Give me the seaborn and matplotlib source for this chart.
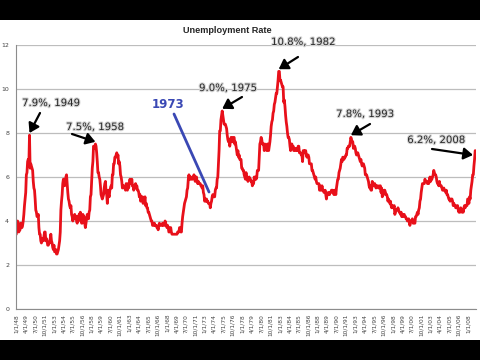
import numpy as np
import matplotlib
matplotlib.use("Agg")
import matplotlib.pyplot as plt
import matplotlib.patheffects as pe
from matplotlib.patches import Rectangle
import seaborn as sns

# monthly unemployment rate (%), Jan 1948 .. Dec 2008, one row per year
first_year = 1948
monthly_rates = [
    [3.4, 3.8, 4.0, 3.9, 3.5, 3.6, 3.6, 3.9, 3.8, 3.7, 3.8, 4.0],
    [4.3, 4.7, 5.0, 5.3, 6.1, 6.2, 6.7, 6.8, 6.6, 7.9, 6.4, 6.6],
    [6.5, 6.4, 6.3, 5.8, 5.5, 5.4, 5.0, 4.5, 4.4, 4.2, 4.2, 4.3],
    [3.7, 3.4, 3.4, 3.1, 3.0, 3.2, 3.1, 3.1, 3.3, 3.5, 3.5, 3.1],
    [3.2, 3.1, 2.9, 2.9, 3.0, 3.0, 3.2, 3.4, 3.1, 3.0, 2.8, 2.7],
    [2.9, 2.6, 2.6, 2.7, 2.5, 2.5, 2.6, 2.7, 2.9, 3.1, 3.5, 4.5],
    [4.9, 5.2, 5.7, 5.9, 5.9, 5.6, 5.8, 6.0, 6.1, 5.7, 5.3, 5.0],
    [4.9, 4.7, 4.6, 4.7, 4.3, 4.2, 4.0, 4.2, 4.1, 4.3, 4.2, 4.2],
    [4.0, 3.9, 4.2, 4.0, 4.3, 4.3, 4.4, 4.1, 3.9, 3.9, 4.3, 4.2],
    [4.2, 3.9, 3.7, 3.9, 4.1, 4.3, 4.2, 4.1, 4.4, 4.5, 5.1, 5.2],
    [5.8, 6.4, 6.7, 7.4, 7.4, 7.3, 7.5, 7.4, 7.1, 6.7, 6.2, 6.2],
    [6.0, 5.9, 5.6, 5.2, 5.1, 5.0, 5.1, 5.2, 5.5, 5.7, 5.8, 5.3],
    [5.2, 4.8, 5.4, 5.2, 5.1, 5.4, 5.5, 5.6, 5.5, 6.1, 6.1, 6.6],
    [6.6, 6.9, 6.9, 7.0, 7.1, 6.9, 7.0, 6.6, 6.7, 6.5, 6.1, 6.0],
    [5.8, 5.5, 5.6, 5.6, 5.5, 5.5, 5.4, 5.7, 5.6, 5.4, 5.7, 5.5],
    [5.7, 5.9, 5.7, 5.7, 5.9, 5.6, 5.6, 5.4, 5.5, 5.5, 5.7, 5.5],
    [5.6, 5.4, 5.4, 5.3, 5.1, 5.2, 4.9, 5.0, 5.1, 5.1, 4.8, 5.0],
    [4.9, 5.1, 4.7, 4.8, 4.6, 4.6, 4.4, 4.4, 4.3, 4.2, 4.1, 4.0],
    [4.0, 3.8, 3.8, 3.8, 3.9, 3.8, 3.8, 3.8, 3.7, 3.7, 3.6, 3.8],
    [3.9, 3.8, 3.8, 3.8, 3.8, 3.9, 3.8, 3.8, 3.8, 4.0, 3.9, 3.8],
    [3.7, 3.8, 3.7, 3.5, 3.5, 3.7, 3.7, 3.5, 3.4, 3.4, 3.4, 3.4],
    [3.4, 3.4, 3.4, 3.4, 3.4, 3.5, 3.5, 3.5, 3.7, 3.7, 3.5, 3.5],
    [3.9, 4.2, 4.4, 4.6, 4.8, 4.9, 5.0, 5.1, 5.4, 5.5, 5.9, 6.1],
    [5.9, 5.9, 6.0, 5.9, 5.9, 5.9, 6.0, 6.1, 6.0, 5.8, 6.0, 6.0],
    [5.8, 5.7, 5.8, 5.7, 5.7, 5.7, 5.6, 5.6, 5.5, 5.6, 5.3, 5.2],
    [4.9, 5.0, 4.9, 5.0, 4.9, 4.9, 4.8, 4.8, 4.8, 4.6, 4.8, 4.9],
    [5.1, 5.2, 5.1, 5.1, 5.1, 5.4, 5.5, 5.5, 5.9, 6.0, 6.6, 7.2],
    [8.1, 8.1, 8.6, 8.8, 9.0, 8.8, 8.6, 8.4, 8.4, 8.4, 8.3, 8.2],
    [7.9, 7.7, 7.6, 7.7, 7.4, 7.6, 7.8, 7.8, 7.6, 7.7, 7.8, 7.8],
    [7.5, 7.6, 7.4, 7.2, 7.0, 7.2, 6.9, 7.0, 6.8, 6.8, 6.8, 6.4],
    [6.4, 6.3, 6.3, 6.1, 6.0, 5.9, 6.2, 5.9, 6.0, 5.8, 5.9, 6.0],
    [5.9, 5.9, 5.8, 5.8, 5.6, 5.7, 5.7, 6.0, 5.9, 6.0, 5.9, 6.0],
    [6.3, 6.3, 6.3, 6.9, 7.5, 7.6, 7.8, 7.7, 7.5, 7.5, 7.5, 7.2],
    [7.5, 7.4, 7.4, 7.2, 7.5, 7.5, 7.2, 7.4, 7.6, 7.9, 8.3, 8.5],
    [8.6, 8.9, 9.0, 9.3, 9.4, 9.6, 9.8, 9.8, 10.1, 10.4, 10.8, 10.8],
    [10.4, 10.4, 10.3, 10.2, 10.1, 10.1, 9.4, 9.5, 9.2, 8.8, 8.5, 8.3],
    [8.0, 7.8, 7.8, 7.7, 7.4, 7.2, 7.5, 7.5, 7.3, 7.4, 7.2, 7.3],
    [7.3, 7.2, 7.2, 7.3, 7.2, 7.4, 7.4, 7.1, 7.1, 7.1, 7.0, 7.0],
    [6.7, 7.2, 7.2, 7.1, 7.2, 7.2, 7.0, 6.9, 7.0, 7.0, 6.9, 6.6],
    [6.6, 6.6, 6.6, 6.3, 6.3, 6.2, 6.1, 6.0, 5.9, 6.0, 5.8, 5.7],
    [5.7, 5.7, 5.7, 5.4, 5.6, 5.4, 5.4, 5.6, 5.4, 5.4, 5.3, 5.3],
    [5.4, 5.2, 5.0, 5.2, 5.2, 5.3, 5.2, 5.2, 5.3, 5.3, 5.4, 5.4],
    [5.4, 5.3, 5.2, 5.4, 5.4, 5.2, 5.5, 5.7, 5.9, 5.9, 6.2, 6.3],
    [6.4, 6.6, 6.8, 6.7, 6.9, 6.9, 6.8, 6.9, 6.9, 7.0, 7.0, 7.3],
    [7.3, 7.4, 7.4, 7.4, 7.6, 7.8, 7.7, 7.6, 7.6, 7.3, 7.4, 7.4],
    [7.3, 7.1, 7.0, 7.1, 7.1, 7.0, 6.9, 6.8, 6.7, 6.8, 6.6, 6.5],
    [6.6, 6.6, 6.5, 6.4, 6.1, 6.1, 6.1, 6.0, 5.9, 5.8, 5.6, 5.5],
    [5.6, 5.4, 5.4, 5.8, 5.6, 5.6, 5.7, 5.7, 5.6, 5.5, 5.6, 5.6],
    [5.6, 5.5, 5.5, 5.6, 5.6, 5.3, 5.5, 5.1, 5.2, 5.2, 5.4, 5.4],
    [5.3, 5.2, 5.2, 5.1, 4.9, 5.0, 4.9, 4.8, 4.9, 4.7, 4.6, 4.7],
    [4.6, 4.6, 4.7, 4.3, 4.4, 4.5, 4.5, 4.5, 4.6, 4.5, 4.4, 4.4],
    [4.3, 4.4, 4.2, 4.3, 4.2, 4.3, 4.3, 4.2, 4.2, 4.1, 4.1, 4.0],
    [4.0, 4.1, 4.0, 3.8, 4.0, 4.0, 4.0, 4.1, 3.9, 3.9, 3.9, 3.9],
    [4.2, 4.2, 4.3, 4.4, 4.3, 4.5, 4.6, 4.9, 5.0, 5.3, 5.5, 5.7],
    [5.7, 5.7, 5.7, 5.9, 5.8, 5.8, 5.8, 5.7, 5.7, 5.7, 5.9, 6.0],
    [5.8, 5.9, 5.9, 6.0, 6.1, 6.3, 6.2, 6.1, 6.1, 6.0, 5.8, 5.7],
    [5.7, 5.6, 5.8, 5.6, 5.6, 5.6, 5.5, 5.4, 5.4, 5.5, 5.4, 5.4],
    [5.3, 5.4, 5.2, 5.2, 5.1, 5.0, 5.0, 4.9, 5.0, 5.0, 5.0, 4.9],
    [4.7, 4.8, 4.7, 4.7, 4.6, 4.6, 4.7, 4.7, 4.5, 4.4, 4.5, 4.4],
    [4.6, 4.5, 4.4, 4.5, 4.4, 4.6, 4.7, 4.6, 4.7, 4.7, 4.7, 5.0],
    [5.0, 4.8, 5.1, 5.0, 5.4, 5.6, 5.8, 6.1, 6.1, 6.5, 6.8, 7.2],
]

# annotated points: (label, year, month)
peaks = [
    ("7.9%, 1949", 1949, 10),
    ("7.5%, 1958", 1958, 7),
    ("9.0%, 1975", 1975, 5),
    ("10.8%, 1982", 1982, 11),
    ("7.8%, 1993", 1992, 6),
    ("6.2%, 2008", 2008, 12),
]

rates = np.array(monthly_rates).ravel()
month_idx = np.arange(len(rates))

def midx(year, month):
    return (year - first_year) * 12 + month - 1

# x labels every 15 months, Excel style m/1/yy
tick_pos = np.arange(0, len(rates), 15)
tick_lab = [f"{p % 12 + 1}/1/{(first_year + p // 12) % 100:02d}" for p in tick_pos]

sns.set_style("white")
fig = plt.figure(figsize=(4.8, 3.6), dpi=100)
fig.patch.set_facecolor("black")
fig.patches.append(Rectangle((0, 20 / 360), 1, 320 / 360, transform=fig.transFigure,
                             facecolor="white", edgecolor="none", zorder=-10))

ax = fig.add_axes([16 / 480, 51 / 360, 460 / 480, 264 / 360])
ax.set_zorder(1)
ax.set_facecolor("white")
sns.lineplot(x=month_idx, y=rates, color="#e8101a", linewidth=2.0, ax=ax)

ax.set_xlim(-0.5, len(rates) + 0.3)
ax.set_ylim(0, 12)
ax.set_yticks(range(0, 13, 2))
ax.yaxis.grid(True, color="#bdbdbd", linewidth=0.9)
ax.set_axisbelow(True)
ax.set_xticks(tick_pos)
ax.set_xticklabels(tick_lab, rotation=90, fontsize=4.2, color="#444444")
ax.tick_params(axis="y", labelsize=4.5, labelcolor="#444444", length=2, pad=3, color="#888888")
ax.tick_params(axis="x", length=2, pad=1.5, color="#888888")
for side in ("top", "right"):
    ax.spines[side].set_visible(False)
for side in ("left", "bottom"):
    ax.spines[side].set_color("#8c8c8c")
    ax.spines[side].set_linewidth(0.8)
ax.set_xlabel("")
ax.set_ylabel("")

fig.text(0.473, 0.914, "Unemployment Rate", ha="center", va="center",
         fontsize=6.6, fontweight="bold", family="Liberation Sans", zorder=5)

# label text positions and arrow tails, in pixels of the picture (x right, y down)
label_px = [(51, 103), (95, 127), (228, 88), (303, 42), (365, 114), (436, 140)]
tail_px = [(40, 113), (72, 134), (242, 97), (298, 57), (370, 124), (432, 149)]
head_px = [None, None, None, None, None, (473, 155)]

def px_to_data(x, y):
    return ((x - 16) / 460 * (len(rates) + 0.8) - 0.5, (309 - y) / 22)

halo = [pe.Stroke(linewidth=1.6, foreground="#d4d4d4"), pe.Normal()]
for (text, yr, mo), lp, tp, hp in zip(peaks, label_px, tail_px, head_px):
    i = midx(yr, mo)
    lx, ly = px_to_data(*lp)
    tx, ty = px_to_data(*tp)
    head = (i, rates[i] + 0.1) if hp is None else px_to_data(*hp)
    ax.text(lx, ly, text, ha="center", va="center", fontsize=7.3,
            color="#2a2a2a", path_effects=halo, clip_on=False)
    ax.annotate("", xy=head, xytext=(tx, ty),
                arrowprops=dict(arrowstyle="-|>,head_length=0.55,head_width=0.35",
                                color="black", lw=1.6, shrinkA=0, shrinkB=0))

# 1973 marker
bx, by = px_to_data(168, 105)
ax.text(bx, by, "1973", ha="center", va="center", fontsize=8.5,
        fontweight="bold", color="#3a48b4")
l0 = px_to_data(174, 114)
l1 = px_to_data(209, 192)
ax.plot([l0[0], l1[0]], [l0[1], l1[1]], color="#3a48b4", linewidth=2.0)

fig.savefig("out.png", dpi=100, facecolor=fig.get_facecolor())
